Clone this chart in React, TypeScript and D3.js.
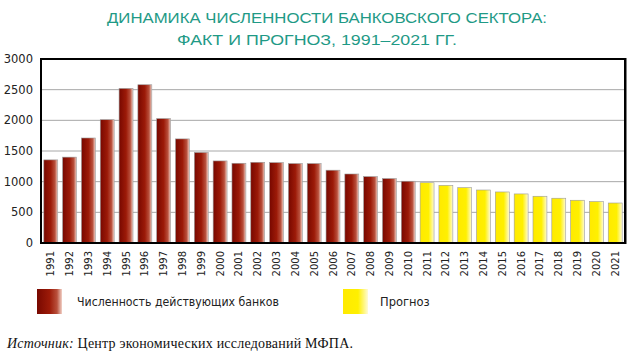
import React from "react";
import * as d3 from "d3";

const years = [
  "1991","1992","1993","1994","1995","1996","1997","1998","1999","2000",
  "2001","2002","2003","2004","2005","2006","2007","2008","2009","2010",
  "2011","2012","2013","2014","2015","2016","2017","2018","2019","2020","2021",
];
const actual = [1355, 1400, 1712, 2010, 2520, 2580, 2028, 1697, 1476, 1338,
  1300, 1316, 1310, 1295, 1295, 1187, 1125, 1082, 1050, 1007];
const forecast = [983, 940, 902, 864, 832, 800, 762, 730, 697, 675, 652];
const yTicks = [0, 500, 1000, 1500, 2000, 2500, 3000];
const titleLines = ["ДИНАМИКА ЧИСЛЕННОСТИ БАНКОВСКОГО СЕКТОРА:", "ФАКТ И ПРОГНОЗ, 1991–2021 ГГ."];
const legendLabels = ["Численность действующих банков", "Прогноз"];

export default function App() {
  const W = 636, H = 358;
  const left = 41, right = 625, top = 59, bottom = 243;
  const values = [...actual, ...forecast];
  const x = d3.scaleBand<string>().domain(years).range([left, right]).paddingInner(0.26).paddingOuter(0.15);
  const y = d3.scaleLinear().domain([0, 3000]).range([bottom, top]);
  const sans = "'DejaVu Sans', sans-serif";
  return (
    <svg width={W} height={H} style={{ position: "absolute", left: 0, top: 0, background: "#fff" }}>
      <defs>
        <linearGradient id="gRed" x1="0" x2="1" y1="0" y2="0">
          <stop offset="0" stopColor="#780800" />
          <stop offset="0.5" stopColor="#9c1a08" />
          <stop offset="0.8" stopColor="#b9503c" />
          <stop offset="1" stopColor="#f2d2c8" />
        </linearGradient>
        <linearGradient id="gYel" x1="0" x2="1" y1="0" y2="0">
          <stop offset="0" stopColor="#ffea00" />
          <stop offset="0.6" stopColor="#fff000" />
          <stop offset="1" stopColor="#fffbd6" />
        </linearGradient>
      </defs>
      <rect x={0} y={0} width={W} height={H} fill="#fff" />
      <text x={107} y={22.5} textLength={440} lengthAdjust="spacingAndGlyphs"
        fontFamily="'Liberation Sans', Arial, sans-serif" fontSize={15.5} fill="#1f9a86">{titleLines[0]}</text>
      <text x={177} y={44.5} textLength={280} lengthAdjust="spacingAndGlyphs"
        fontFamily="'Liberation Sans', Arial, sans-serif" fontSize={15.5} fill="#1f9a86">{titleLines[1]}</text>
      {yTicks.filter(v => v > 0 && v < 3000).map(v => (
        <line key={v} x1={left} x2={right} y1={y(v)} y2={y(v)} stroke="#a8a8a8" strokeWidth={1} />
      ))}
      {values.map((v, i) => {
        const yr = years[i];
        const isF = i >= actual.length;
        return (
          <rect key={yr} x={x(yr)} y={y(v)} width={x.bandwidth()} height={bottom - y(v)}
            fill={isF ? "url(#gYel)" : "url(#gRed)"} stroke="#9a9a9a" strokeWidth={0.6} />
        );
      })}
      <rect x={left} y={top} width={right - left} height={bottom - top} fill="none" stroke="#000" strokeWidth={2} />
      <line x1={right + 0.5} x2={right + 0.5} y1={top - 1} y2={bottom + 1} stroke="#000" strokeWidth={2} />
      {yTicks.map(v => (
        <text key={v} x={33} y={y(v) + 4} textAnchor="end" fontFamily={sans} fontSize={11.5} fill="#222">{v}</text>
      ))}
      {years.map(yr => {
        const cx = (x(yr) as number) + x.bandwidth() / 2;
        return (
          <text key={yr} transform={`translate(${cx + 3.5},251) rotate(-90)`} textAnchor="end"
            fontFamily={sans} fontSize={10} fill="#222">{yr}</text>
        );
      })}
      <rect x={37} y={289} width={25} height={25} fill="url(#gRed)" />
      <text x={77} y={306} fontFamily={sans} fontSize={11.5} fill="#222" textLength={202} lengthAdjust="spacingAndGlyphs">{legendLabels[0]}</text>
      <rect x={343} y={289} width={25} height={25} fill="url(#gYel)" />
      <text x={380} y={306} fontFamily={sans} fontSize={11.5} fill="#222">{legendLabels[1]}</text>
      <text x={7} y={348} fontFamily="'Liberation Serif', 'DejaVu Serif', serif" fontSize={14} fill="#111" textLength={346} lengthAdjust="spacing">
        <tspan fontStyle="italic">Источник:</tspan> Центр экономических исследований МФПА.
      </text>
    </svg>
  );
}
